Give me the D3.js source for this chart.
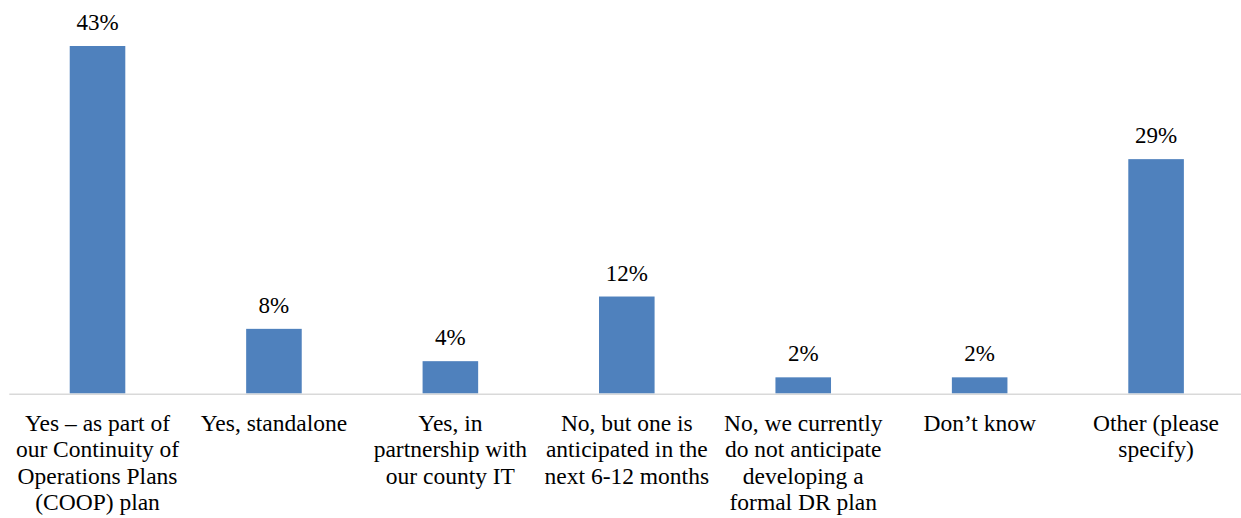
<!DOCTYPE html>
<html>
<head>
<meta charset="utf-8">
<script src="https://cdn.jsdelivr.net/npm/d3@7"></script>
<style>
  html, body { margin: 0; padding: 0; background: #fff; }
  svg { display: block; }
</style>
</head>
<body>
<svg id="chart" width="1241" height="518"></svg>
<script>
// Survey answers (each label's line breaks are given with \n)
const categories = [
  "Yes \u2013 as part of\nour Continuity of\nOperations Plans\n(COOP) plan",
  "Yes, standalone",
  "Yes, in\npartnership with\nour county IT",
  "No, but one is\nanticipated in the\nnext 6-12 months",
  "No, we currently\ndo not anticipate\ndeveloping a\nformal DR plan",
  "Don\u2019t know",
  "Other (please\nspecify)"
];
const percents = [43, 8, 4, 12, 2, 2, 29];

const FONT = "'Liberation Serif', 'Times New Roman', Times, 'DejaVu Serif', serif";

const svg = d3.select("#chart");
const baseY = 393.5;

const x = d3.scaleBand()
  .domain(categories)
  .range([9.3, 1244.3])
  .paddingInner(0.685)
  .paddingOuter(0.3425);

const y = d3.scaleLinear()
  .domain([0, 43])
  .range([baseY, 46]);

// bars
svg.append("g")
  .selectAll("rect")
  .data(categories)
  .join("rect")
  .attr("x", d => x(d))
  .attr("y", (d, i) => y(percents[i]))
  .attr("width", x.bandwidth())
  .attr("height", (d, i) => baseY - y(percents[i]))
  .attr("fill", "#4F81BD");

// category axis line
svg.append("line")
  .attr("x1", 9.3).attr("x2", 1241)
  .attr("y1", baseY + 0.75).attr("y2", baseY + 0.75)
  .attr("stroke", "#D9D9D9")
  .attr("stroke-width", 1.5);

// value labels above bars
svg.append("g")
  .selectAll("text")
  .data(categories)
  .join("text")
  .attr("x", d => x(d) + x.bandwidth() / 2)
  .attr("y", (d, i) => y(percents[i]) - 16)
  .attr("text-anchor", "middle")
  .attr("font-family", FONT)
  .attr("font-size", 23)
  .attr("fill", "#000")
  .text((d, i) => percents[i] + "%");

// category labels, one tspan per line
const lineH = 26.5;
const cat = svg.append("g")
  .selectAll("text")
  .data(categories)
  .join("text")
  .attr("text-anchor", "middle")
  .attr("font-family", FONT)
  .attr("font-size", 23.5)
  .attr("fill", "#000")
  .attr("transform", d => `translate(${x(d) + x.bandwidth() / 2},${baseY + 37})`);

cat.selectAll("tspan")
  .data(d => d.split("\n"))
  .join("tspan")
  .attr("x", 0)
  .attr("y", (d, i) => i * lineH)
  .text(d => d);
</script>
</body>
</html>
